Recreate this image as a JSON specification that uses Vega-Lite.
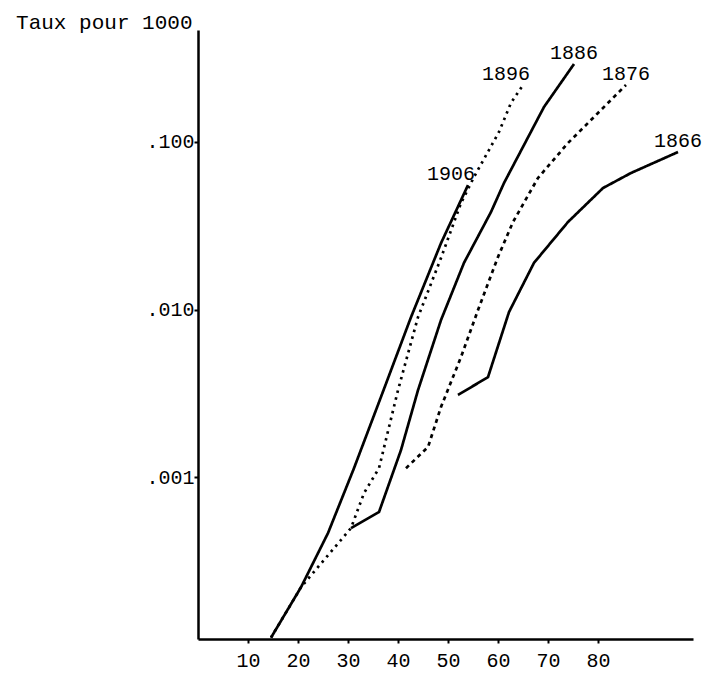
{
  "$schema": "https://vega.github.io/schema/vega-lite/v6.json",
  "autosize": {"type": "none"},
  "padding": {"left": 198, "top": 30, "right": 12, "bottom": 38},
  "width": 495,
  "height": 609,
  "background": "white",
  "config": {
    "view": {"stroke": null},
    "font": "Liberation Mono",
    "axis": {"grid": false, "domainColor": "black", "tickColor": "black", "labelColor": "black", "titleColor": "black", "labelFont": "Liberation Mono", "titleFont": "Liberation Mono", "labelFontWeight": "normal", "titleFontWeight": "normal"}
  },
  "data": {
    "values": [
      {"cohorte": "1906", "age": 14.6, "taux": 0.00011},
      {"cohorte": "1906", "age": 20.6, "taux": 0.00022},
      {"cohorte": "1906", "age": 26.0, "taux": 0.000463},
      {"cohorte": "1906", "age": 31.2, "taux": 0.00113},
      {"cohorte": "1906", "age": 36.6, "taux": 0.00301},
      {"cohorte": "1906", "age": 42.6, "taux": 0.009},
      {"cohorte": "1906", "age": 48.6, "taux": 0.0249},
      {"cohorte": "1906", "age": 54.0, "taux": 0.0553},
      {"cohorte": "1896", "age": 14.6, "taux": 0.00011},
      {"cohorte": "1896", "age": 20.6, "taux": 0.00022},
      {"cohorte": "1896", "age": 30.6, "taux": 0.000496},
      {"cohorte": "1896", "age": 33.2, "taux": 0.000802},
      {"cohorte": "1896", "age": 36.2, "taux": 0.00113},
      {"cohorte": "1896", "age": 40.0, "taux": 0.0033},
      {"cohorte": "1896", "age": 44.0, "taux": 0.009},
      {"cohorte": "1896", "age": 48.6, "taux": 0.0203},
      {"cohorte": "1896", "age": 52.6, "taux": 0.0432},
      {"cohorte": "1896", "age": 55.2, "taux": 0.0618},
      {"cohorte": "1896", "age": 60.2, "taux": 0.1148},
      {"cohorte": "1896", "age": 62.6, "taux": 0.171},
      {"cohorte": "1896", "age": 65.0, "taux": 0.219},
      {"cohorte": "1886", "age": 30.6, "taux": 0.000496},
      {"cohorte": "1886", "age": 36.2, "taux": 0.000618},
      {"cohorte": "1886", "age": 40.6, "taux": 0.00145},
      {"cohorte": "1886", "age": 44.0, "taux": 0.0033},
      {"cohorte": "1886", "age": 48.6, "taux": 0.00865},
      {"cohorte": "1886", "age": 53.2, "taux": 0.019},
      {"cohorte": "1886", "age": 58.6, "taux": 0.0382},
      {"cohorte": "1886", "age": 61.2, "taux": 0.0569},
      {"cohorte": "1886", "age": 69.2, "taux": 0.1618},
      {"cohorte": "1886", "age": 75.2, "taux": 0.292},
      {"cohorte": "1876", "age": 41.6, "taux": 0.00113},
      {"cohorte": "1876", "age": 46.0, "taux": 0.00151},
      {"cohorte": "1876", "age": 48.6, "taux": 0.00262},
      {"cohorte": "1876", "age": 52.6, "taux": 0.0052},
      {"cohorte": "1876", "age": 56.0, "taux": 0.00993},
      {"cohorte": "1876", "age": 60.0, "taux": 0.0206},
      {"cohorte": "1876", "age": 63.0, "taux": 0.0333},
      {"cohorte": "1876", "age": 68.0, "taux": 0.061},
      {"cohorte": "1876", "age": 74.0, "taux": 0.0986},
      {"cohorte": "1876", "age": 80.0, "taux": 0.149},
      {"cohorte": "1876", "age": 85.6, "taux": 0.219},
      {"cohorte": "1866", "age": 52.0, "taux": 0.00309},
      {"cohorte": "1866", "age": 58.0, "taux": 0.00395},
      {"cohorte": "1866", "age": 62.2, "taux": 0.00966},
      {"cohorte": "1866", "age": 67.2, "taux": 0.019},
      {"cohorte": "1866", "age": 74.0, "taux": 0.0333},
      {"cohorte": "1866", "age": 81.0, "taux": 0.0531},
      {"cohorte": "1866", "age": 86.6, "taux": 0.0653},
      {"cohorte": "1866", "age": 96.0, "taux": 0.0871}
    ]
  },
  "encoding": {
    "x": {
      "field": "age", "type": "quantitative",
      "scale": {"domain": [0, 99], "nice": false, "zero": false},
      "axis": {"title": null, "values": [10, 20, 30, 40, 50, 60, 70, 80], "format": "d", "domainWidth": 2.5, "tickWidth": 2, "tickSize": 4, "labelPadding": 7, "labelFontSize": 20}
    },
    "y": {
      "field": "taux", "type": "quantitative",
      "scale": {"type": "log", "domain": [0.000108, 0.466], "nice": false},
      "axis": {"title": "Taux pour 1000", "titleAngle": 0, "titleAlign": "right", "titleBaseline": "alphabetic", "titleX": -6, "titleY": -2, "titleFontSize": 21, "values": [0.001, 0.01, 0.1], "labelExpr": "replace(format(datum.value, '.3f'), '0.', '.')", "domainWidth": 2.5, "tickWidth": 2, "tickSize": 4, "labelPadding": 0, "labelFontSize": 20}
    }
  },
  "layer": [
    {
      "mark": {"type": "line", "color": "black", "strokeWidth": 2.7},
      "encoding": {
        "detail": {"field": "cohorte"},
        "strokeDash": {
          "field": "cohorte", "type": "nominal",
          "scale": {"domain": ["1866", "1876", "1886", "1896", "1906"], "range": [[1, 0], [4, 4], [1, 0], [2.5, 4.5], [1, 0]]},
          "legend": null
        }
      }
    },
    {
      "transform": [
        {"filter": "datum.cohorte == '1906' || datum.cohorte == '1896'"},
        {"joinaggregate": [{"op": "max", "field": "age", "as": "amax"}], "groupby": ["cohorte"]},
        {"filter": "datum.age == datum.amax"}
      ],
      "mark": {"type": "text", "align": "right", "baseline": "bottom", "dx": 7, "dy": -1, "fontSize": 20, "color": "black", "font": "Liberation Mono"},
      "encoding": {"text": {"field": "cohorte"}}
    },
    {
      "transform": [
        {"filter": "datum.cohorte != '1906' && datum.cohorte != '1896'"},
        {"joinaggregate": [{"op": "max", "field": "age", "as": "amax"}], "groupby": ["cohorte"]},
        {"filter": "datum.age == datum.amax"}
      ],
      "mark": {"type": "text", "align": "center", "baseline": "bottom", "dy": -1, "fontSize": 20, "color": "black", "font": "Liberation Mono"},
      "encoding": {"text": {"field": "cohorte"}}
    }
  ]
}
